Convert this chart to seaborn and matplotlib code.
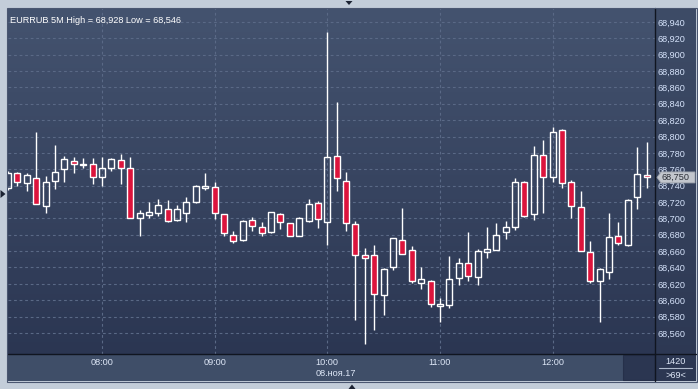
import numpy as np
import pandas as pd
import matplotlib
matplotlib.use("Agg")
import matplotlib.pyplot as plt
import seaborn as sns
from matplotlib.colors import LinearSegmentedColormap
from matplotlib.patches import Rectangle, Polygon
from matplotlib.lines import Line2D
from matplotlib.ticker import FuncFormatter, FixedLocator

# ---------------- data (EURRUB, 5-minute bars, 08.11.2017 07:10 - 12:50) ----------------
times = ["07:10", "07:15", "07:20", "07:25", "07:30", "07:35", "07:40", "07:45", "07:50", "07:55",
         "08:00", "08:05", "08:10", "08:15", "08:20", "08:25", "08:30", "08:35", "08:40", "08:45",
         "08:50", "08:55", "09:00", "09:05", "09:10", "09:15", "09:20", "09:25", "09:30", "09:35",
         "09:40", "09:45", "09:50", "09:55", "10:00", "10:05", "10:10", "10:15", "10:20", "10:25",
         "10:30", "10:35", "10:40", "10:45", "10:50", "10:55", "11:00", "11:05", "11:10", "11:15",
         "11:20", "11:25", "11:30", "11:35", "11:40", "11:45", "11:50", "11:55", "12:00", "12:05",
         "12:10", "12:15", "12:20", "12:25", "12:30", "12:35", "12:40", "12:45", "12:50"]

opens = [68.737, 68.755, 68.743, 68.749, 68.715, 68.746, 68.760, 68.770, 68.765, 68.767,
         68.750, 68.762, 68.771, 68.762, 68.700, 68.704, 68.706, 68.711, 68.698, 68.706,
         68.720, 68.737, 68.738, 68.705, 68.680, 68.673, 68.698, 68.689, 68.683, 68.705,
         68.694, 68.679, 68.697, 68.719, 68.695, 68.776, 68.746, 68.693, 68.655, 68.655,
         68.606, 68.640, 68.674, 68.661, 68.621, 68.623, 68.593, 68.594, 68.627, 68.645,
         68.628, 68.659, 68.661, 68.683, 68.689, 68.744, 68.705, 68.777, 68.750, 68.808,
         68.744, 68.714, 68.659, 68.623, 68.635, 68.678, 68.667, 68.726, 68.753]
highs = [68.758, 68.757, 68.755, 68.806, 68.752, 68.790, 68.776, 68.775, 68.774, 68.774,
         68.775, 68.774, 68.779, 68.775, 68.710, 68.720, 68.724, 68.722, 68.716, 68.726,
         68.741, 68.755, 68.745, 68.705, 68.685, 68.698, 68.702, 68.695, 68.708, 68.707,
         68.694, 68.702, 68.724, 68.721, 68.928, 68.842, 68.757, 68.697, 68.664, 68.667,
         68.639, 68.676, 68.713, 68.666, 68.641, 68.625, 68.603, 68.654, 68.652, 68.683,
         68.662, 68.689, 68.694, 68.697, 68.749, 68.746, 68.788, 68.796, 68.812, 68.809,
         68.747, 68.733, 68.672, 68.639, 68.707, 68.696, 68.724, 68.787, 68.793]
lows = [68.735, 68.740, 68.734, 68.717, 68.706, 68.736, 68.745, 68.756, 68.761, 68.742,
        68.739, 68.758, 68.742, 68.700, 68.678, 68.700, 68.703, 68.696, 68.697, 68.695,
        68.719, 68.735, 68.699, 68.679, 68.670, 68.672, 68.685, 68.679, 68.682, 68.687,
        68.678, 68.678, 68.695, 68.688, 68.668, 68.734, 68.685, 68.576, 68.546, 68.564,
        68.582, 68.637, 68.656, 68.621, 68.614, 68.592, 68.573, 68.590, 68.619, 68.623,
        68.618, 68.651, 68.661, 68.675, 68.686, 68.702, 68.698, 68.707, 68.744, 68.737,
        68.701, 68.660, 68.621, 68.573, 68.626, 68.668, 68.666, 68.711, 68.737]
closes = [68.756, 68.745, 68.753, 68.717, 68.745, 68.757, 68.772, 68.767, 68.766, 68.751,
          68.762, 68.772, 68.761, 68.700, 68.706, 68.708, 68.716, 68.697, 68.711, 68.720,
          68.739, 68.740, 68.706, 68.682, 68.672, 68.697, 68.691, 68.682, 68.708, 68.696,
          68.678, 68.700, 68.717, 68.699, 68.775, 68.749, 68.694, 68.655, 68.651, 68.607,
          68.638, 68.676, 68.657, 68.623, 68.626, 68.595, 68.595, 68.626, 68.646, 68.629,
          68.660, 68.662, 68.680, 68.690, 68.745, 68.703, 68.778, 68.751, 68.806, 68.743,
          68.715, 68.660, 68.624, 68.638, 68.677, 68.670, 68.723, 68.754, 68.750]

hour_labels = ["08:00", "09:00", "10:00", "11:00", "12:00"]
price_ticks = [68.560, 68.580, 68.600, 68.620, 68.640, 68.660, 68.680, 68.700, 68.720, 68.740,
               68.760, 68.780, 68.800, 68.820, 68.840, 68.860, 68.880, 68.900, 68.920, 68.940]
title_text = "EURRUB 5M High = 68,928 Low = 68,546"
date_text = "08.ноя.17"
last_price = 68.750
bars_count = "1420"
visible_count = ">69<"

df = pd.DataFrame({"time": times, "open": opens, "high": highs, "low": lows, "close": closes})
df["pos"] = np.arange(len(df))
df["up"] = df["close"] >= df["open"]

# ---------------- style ----------------
sns.set_theme(style="dark")
plt.rcParams["font.family"] = ["Liberation Sans", "DejaVu Sans"]

W, H = 698, 389
def fx(x): return x / W
def fy(y): return 1 - y / H

FRAME = "#c3cdd9"
RED = "#dc143c"
TXT = "#d6e3fb"

fig = plt.figure(figsize=(W / 100, H / 100), dpi=100, facecolor=FRAME)

grad = np.linspace(0, 1, 256).reshape(-1, 1)

# right price panel background
axr = fig.add_axes([fx(655), fy(381), 41 / W, 373 / H], zorder=-2)
axr.imshow(grad, cmap=LinearSegmentedColormap.from_list("r", ["#3e4c67", "#2c3752"]),
           extent=[0, 1, 0, 1], aspect="auto")
axr.set_axis_off()

# time axis band
fig.patches.append(Rectangle((fx(8), fy(381)), 647 / W, 27 / H, transform=fig.transFigure,
                             facecolor="#3f4e68", edgecolor="none", zorder=-2))
fig.patches.append(Rectangle((fx(623), fy(380)), 32 / W, 25 / H, transform=fig.transFigure,
                             facecolor="#2b3651", edgecolor="#26304a", lw=0.8, zorder=-1))

# ---------------- main axes ----------------
ax = fig.add_axes([fx(8), fy(354), 647 / W, 346 / H], zorder=0)
ax.imshow(grad, cmap=LinearSegmentedColormap.from_list("g", ["#44536f", "#2b3652"]),
          extent=[0, 1, 0, 1], transform=ax.transAxes, aspect="auto", zorder=0)

body_w = 0.64
up = df[df["up"]]
dn = df[~df["up"]]

# wicks (outside the body)
top_body = df[["open", "close"]].max(axis=1)
bot_body = df[["open", "close"]].min(axis=1)
ax.vlines(df["pos"], top_body, df["high"], color="white", lw=1.0, zorder=2)
ax.vlines(df["pos"], df["low"], bot_body, color="white", lw=1.0, zorder=2)

min_h = 0.0015
hu = np.maximum((up["close"] - up["open"]).values, min_h)
ax.bar(up["pos"], hu, bottom=up["open"].values, width=body_w, facecolor="none",
       edgecolor="white", linewidth=1.0, zorder=3)
hd = np.maximum((dn["open"] - dn["close"]).values, min_h)
ax.bar(dn["pos"], hd, bottom=dn["close"].values, width=body_w, facecolor=RED,
       edgecolor="white", linewidth=1.0, zorder=3)

ax.set_xlim(-0.01, 68.9)
ax.set_ylim(68.5343, 68.957)

hour_pos = [times.index(h) for h in hour_labels]
ax.xaxis.set_major_locator(FixedLocator(hour_pos))
ax.set_xticklabels(hour_labels)
ax.yaxis.set_major_locator(FixedLocator(price_ticks))
ax.yaxis.set_major_formatter(FuncFormatter(lambda v, p: f"{v:.3f}".replace(".", ",")))

ax.grid(True, color="#5a6986", linestyle=(0, (2.5, 2.5)), linewidth=0.8, zorder=1)
ax.set_axisbelow(True)
ax.tick_params(axis="y", left=False, right=False, labelleft=False, labelright=True,
               length=0, pad=2.0, labelsize=6.6, labelcolor=TXT)
ax.tick_params(axis="x", bottom=False, labelbottom=True, length=0, pad=3.0, labelsize=6.6,
               labelcolor="#dde6f6")
for s in ax.spines.values():
    s.set_visible(False)
for lab in ax.get_yticklabels():
    lab.set_horizontalalignment("left")

# title
ax.text(0.003, 0.978, title_text, transform=ax.transAxes, ha="left", va="top",
        color="white", fontsize=6.6, zorder=5)

# ---------------- separators / frame ----------------
def hline(y, x0, x1, c="#101520", lw=1.0, z=3):
    fig.lines.append(Line2D([fx(x0), fx(x1)], [fy(y), fy(y)], transform=fig.transFigure,
                            color=c, lw=lw, zorder=z))
def vline(x, y0, y1, c="#101520", lw=1.0, z=3):
    fig.lines.append(Line2D([fx(x), fx(x)], [fy(y0), fy(y1)], transform=fig.transFigure,
                            color=c, lw=lw, zorder=z))

hline(354, 8, 696)
vline(655, 8, 381)
fig.patches.append(Rectangle((fx(7.5), fy(381.5)), 689 / W, 374 / H, transform=fig.transFigure,
                             facecolor="none", edgecolor="#4a5670", lw=0.8, zorder=3))
hline(368, 659, 692, c="#aeb9cc", lw=0.8)

# date under 10:00
fig.text(fx(316), fy(374), date_text, ha="left", va="center", color="#dde6f6", fontsize=6.6)
# bar counters
fig.text(fx(676), fy(361.5), bars_count, ha="center", va="center", color="#dde6f6", fontsize=6.6)
fig.text(fx(676), fy(375), visible_count, ha="center", va="center", color="#dde6f6", fontsize=6.6)

# last price marker
yl = ax.transData.transform((0, last_price))[1]
yl_px = H - yl
box = Polygon([(fx(657), fy(yl_px)), (fx(661), fy(yl_px - 5.5)), (fx(695), fy(yl_px - 5.5)),
               (fx(695), fy(yl_px + 5.5)), (fx(661), fy(yl_px + 5.5))],
              closed=True, transform=fig.transFigure, facecolor="#c2c6cd",
              edgecolor="#9aa0aa", lw=0.6, zorder=4)
fig.patches.append(box)
fig.text(fx(661), fy(yl_px), f"{last_price:.3f}".replace(".", ","), ha="left", va="center",
         color="#2a2e36", fontsize=6.6, zorder=5)

# small frame arrows
fig.patches.append(Polygon([(fx(0.5), fy(190)), (fx(0.5), fy(198)), (fx(5.5), fy(194))],
                           closed=True, transform=fig.transFigure, facecolor="#1c2333",
                           edgecolor="none", zorder=5))
fig.patches.append(Polygon([(fx(345.5), fy(1)), (fx(352.5), fy(1)), (fx(349), fy(5))],
                           closed=True, transform=fig.transFigure, facecolor="#1c2333",
                           edgecolor="none", zorder=5))
fig.patches.append(Polygon([(fx(348.5), fy(389)), (fx(355.5), fy(389)), (fx(352), fy(384.5))],
                           closed=True, transform=fig.transFigure, facecolor="#1c2333",
                           edgecolor="none", zorder=5))

fig.savefig("out.png", dpi=100, facecolor=FRAME)
